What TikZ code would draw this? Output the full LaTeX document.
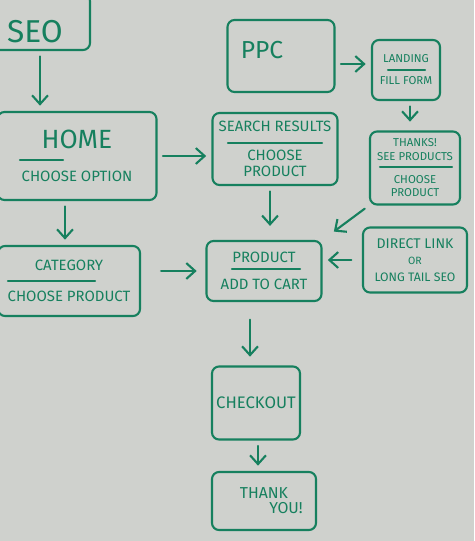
\documentclass[tikz,border=0pt]{standalone}
\usepackage{fontspec}
\setmainfont{Fira Sans}
\usetikzlibrary{arrows.meta,positioning}
\definecolor{board}{RGB}{207,209,205}
\definecolor{ink}{RGB}{22,128,94}

\begin{document}
\begin{tikzpicture}[
  x=0.02cm, y=-0.02cm,
  every node/.style = {font=\fontsize{8.5}{9.5}\selectfont, text=ink},
  box/.style   = {draw=ink, line width=1.2pt, rounded corners=4pt,
                  align=center, inner sep=0pt},
  small/.style = {font=\fontsize{6.5}{7.5}\selectfont},
  rule/.style  = {draw=ink, line width=1.2pt, line cap=round},
  arr/.style   = {draw=ink, line width=1.2pt, line cap=round,
                  -{Straight Barb[length=5pt,width=9pt]},
                  shorten <=3pt, shorten >=3pt},
]
\useasboundingbox (0,0) rectangle (474,541);
\fill[board] (0,0) rectangle (474,541);
\clip (0,0) rectangle (474,541);

%% ---------- left column ----------
\node[box, minimum width=2.2cm, minimum height=1.12cm,
      label={[font=\fontsize{18}{18}\selectfont, yshift=-0.2cm]center:SEO}] (seo) at (35,22) {};
\node[box, minimum width=3.18cm, minimum height=1.76cm] (home) at (77,156)
  {{\fontsize{15}{15}\selectfont HOME}\\[9pt]CHOOSE OPTION};
\node[box, minimum width=2.84cm, minimum height=1.4cm] (cat) at (69,281)
  {CATEGORY\\[8pt]CHOOSE PRODUCT};

\draw[rule] ([shift={(-57,4)}]home.center) -- ([shift={(-14,4)}]home.center);
\draw[rule] ([shift={(-61,0)}]cat.center) -- ([shift={(26,0)}]cat.center);

%% ---------- middle column ----------
\node[box, minimum width=2.14cm, minimum height=1.44cm,
      label={[font=\fontsize{14}{14}\selectfont, xshift=-0.38cm, yshift=0.12cm]center:PPC}] (ppc) at (281,56) {};
\node[box, minimum width=2.5cm, minimum height=1.44cm] (search) at (275,149)
  {SEARCH RESULTS\\[7pt]CHOOSE\\PRODUCT};
\node[box, minimum width=2.3cm, minimum height=1.2cm] (prod) at (264,271)
  {PRODUCT\\[6pt]ADD TO CART};
\node[box, minimum width=1.76cm, minimum height=1.46cm,
      font=\fontsize{9.5}{10}\selectfont] (check) at (256,403) {CHECKOUT};
\node[box, minimum width=2.08cm, minimum height=1.16cm,
      font=\fontsize{9}{8.5}\selectfont] (thx) at (264,501) {THANK\\\hspace*{0.88cm}YOU!};

\draw[rule] ([shift={(-47,-6)}]search.center) -- ([shift={(47,-6)}]search.center);
\draw[rule] ([shift={(-32,-2)}]prod.center) -- ([shift={(36,-2)}]prod.center);

%% ---------- right column ----------
\node[box, small, minimum width=1.36cm, minimum height=1.2cm] (land) at (406,70)
  {LANDING\\[5pt]FILL FORM};
\node[box, small, minimum width=1.8cm, minimum height=1.46cm] (thanks) at (415,168)
  {THANKS!\\SEE PRODUCTS\\[6pt]CHOOSE\\PRODUCT};
\node[box, minimum width=2.08cm, minimum height=1.3cm] (direct) at (415,260)
  {{\fontsize{8}{9}\selectfont DIRECT LINK}\\{\fontsize{6}{6}\selectfont OR}\\{\fontsize{7}{8}\selectfont LONG TAIL SEO}};

\draw[rule] ([shift={(-18,0)}]land.center) -- ([shift={(19,0)}]land.center);
\draw[rule] ([shift={(-35,-1)}]thanks.center) -- ([shift={(37,-1)}]thanks.center);

%% ---------- arrows ----------
\draw[arr] ([shift={(5,0)}]seo.south) -- ([shift={(5,0)}]seo.south |- home.north);
\draw[arr] ([shift={(-12,0)}]home.south) -- ([shift={(-12,0)}]home.south |- cat.north);
\draw[arr] (home.east) -- (home.east -| search.west);
\draw[arr, shorten <=0pt, shorten >=5pt] ([shift={(20,0)}]cat.east |- prod.west) -- (prod.west);
\draw[arr] ([shift={(0,-6)}]ppc.east |- land.west) -- ([shift={(0,-6)}]land.west);
\draw[arr, shorten >=5pt] ([shift={(4,0)}]land.south) -- ([shift={(4,0)}]land.south |- thanks.north);
\draw[arr, shorten >=8pt] (thanks.south west) -- (prod.north east);
\draw[arr, shorten >=8pt] ([shift={(-5,0)}]search.south) -- ([shift={(-5,0)}]search.south |- prod.north);
\draw[arr, shorten <=6pt] (direct.west) -- (direct.west -| prod.east);
\draw[arr, shorten <=10pt, shorten >=5pt] ([shift={(-14,0)}]prod.south) -- ([shift={(-14,0)}]prod.south |- check.north);
\draw[arr] ([shift={(2,0)}]check.south) -- ([shift={(2,0)}]check.south |- thx.north);

\end{tikzpicture}
\end{document}
